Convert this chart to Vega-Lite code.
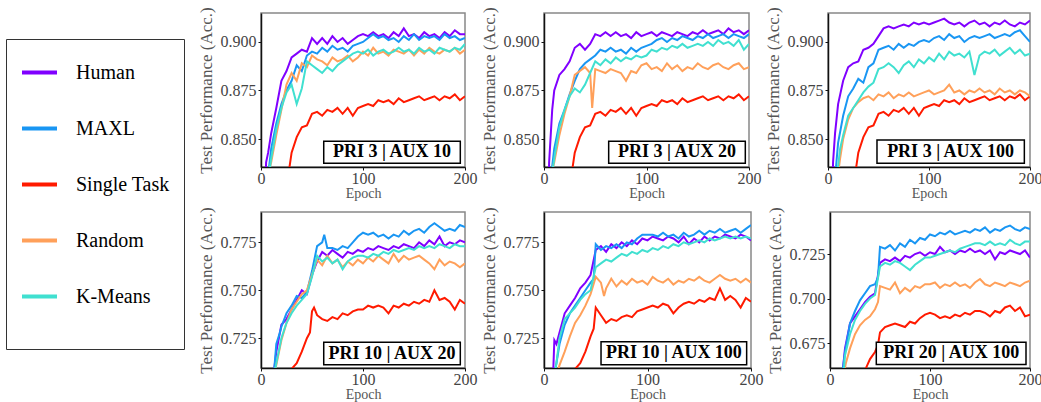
{
"$schema":"https://vega.github.io/schema/vega-lite/v6.json",
"padding":{"left":5,"top":6,"right":5,"bottom":2},
"background":"white",
"datasets":{"d":[
{"p":1,"s":"Human","e":0,"v":0.75},{"p":1,"s":"Human","e":5,"v":0.838},{"p":1,"s":"Human","e":7,"v":0.843},{"p":1,"s":"Human","e":10,"v":0.853},{"p":1,"s":"Human","e":15,"v":0.866},{"p":1,"s":"Human","e":20,"v":0.880},{"p":1,"s":"Human","e":25,"v":0.885},{"p":1,"s":"Human","e":30,"v":0.892},{"p":1,"s":"Human","e":35,"v":0.894},{"p":1,"s":"Human","e":40,"v":0.896},{"p":1,"s":"Human","e":45,"v":0.895},{"p":1,"s":"Human","e":50,"v":0.902},{"p":1,"s":"Human","e":55,"v":0.899},{"p":1,"s":"Human","e":60,"v":0.902},{"p":1,"s":"Human","e":65,"v":0.899},{"p":1,"s":"Human","e":70,"v":0.903},{"p":1,"s":"Human","e":75,"v":0.900},{"p":1,"s":"Human","e":80,"v":0.902},{"p":1,"s":"Human","e":85,"v":0.899},{"p":1,"s":"Human","e":90,"v":0.901},{"p":1,"s":"Human","e":95,"v":0.903},{"p":1,"s":"Human","e":100,"v":0.904},{"p":1,"s":"Human","e":105,"v":0.903},{"p":1,"s":"Human","e":110,"v":0.905},{"p":1,"s":"Human","e":115,"v":0.903},{"p":1,"s":"Human","e":120,"v":0.904},{"p":1,"s":"Human","e":125,"v":0.902},{"p":1,"s":"Human","e":130,"v":0.905},{"p":1,"s":"Human","e":135,"v":0.903},{"p":1,"s":"Human","e":140,"v":0.907},{"p":1,"s":"Human","e":145,"v":0.903},{"p":1,"s":"Human","e":150,"v":0.904},{"p":1,"s":"Human","e":155,"v":0.902},{"p":1,"s":"Human","e":160,"v":0.905},{"p":1,"s":"Human","e":165,"v":0.903},{"p":1,"s":"Human","e":170,"v":0.904},{"p":1,"s":"Human","e":175,"v":0.902},{"p":1,"s":"Human","e":180,"v":0.905},{"p":1,"s":"Human","e":185,"v":0.903},{"p":1,"s":"Human","e":190,"v":0.906},{"p":1,"s":"Human","e":195,"v":0.904},{"p":1,"s":"Human","e":200,"v":0.904},
{"p":1,"s":"MAXL","e":0,"v":0.76},{"p":1,"s":"MAXL","e":8,"v":0.836},{"p":1,"s":"MAXL","e":10,"v":0.845},{"p":1,"s":"MAXL","e":15,"v":0.858},{"p":1,"s":"MAXL","e":20,"v":0.868},{"p":1,"s":"MAXL","e":25,"v":0.875},{"p":1,"s":"MAXL","e":30,"v":0.880},{"p":1,"s":"MAXL","e":35,"v":0.888},{"p":1,"s":"MAXL","e":40,"v":0.885},{"p":1,"s":"MAXL","e":45,"v":0.893},{"p":1,"s":"MAXL","e":50,"v":0.895},{"p":1,"s":"MAXL","e":55,"v":0.894},{"p":1,"s":"MAXL","e":60,"v":0.897},{"p":1,"s":"MAXL","e":65,"v":0.895},{"p":1,"s":"MAXL","e":70,"v":0.898},{"p":1,"s":"MAXL","e":75,"v":0.896},{"p":1,"s":"MAXL","e":80,"v":0.897},{"p":1,"s":"MAXL","e":85,"v":0.895},{"p":1,"s":"MAXL","e":90,"v":0.898},{"p":1,"s":"MAXL","e":95,"v":0.899},{"p":1,"s":"MAXL","e":100,"v":0.900},{"p":1,"s":"MAXL","e":105,"v":0.902},{"p":1,"s":"MAXL","e":110,"v":0.904},{"p":1,"s":"MAXL","e":115,"v":0.902},{"p":1,"s":"MAXL","e":120,"v":0.903},{"p":1,"s":"MAXL","e":125,"v":0.901},{"p":1,"s":"MAXL","e":130,"v":0.902},{"p":1,"s":"MAXL","e":135,"v":0.900},{"p":1,"s":"MAXL","e":140,"v":0.903},{"p":1,"s":"MAXL","e":145,"v":0.901},{"p":1,"s":"MAXL","e":150,"v":0.904},{"p":1,"s":"MAXL","e":155,"v":0.901},{"p":1,"s":"MAXL","e":160,"v":0.903},{"p":1,"s":"MAXL","e":165,"v":0.902},{"p":1,"s":"MAXL","e":170,"v":0.903},{"p":1,"s":"MAXL","e":175,"v":0.901},{"p":1,"s":"MAXL","e":180,"v":0.904},{"p":1,"s":"MAXL","e":185,"v":0.902},{"p":1,"s":"MAXL","e":190,"v":0.903},{"p":1,"s":"MAXL","e":195,"v":0.901},{"p":1,"s":"MAXL","e":200,"v":0.902},
{"p":1,"s":"Single Task","e":0,"v":0.70},{"p":1,"s":"Single Task","e":25,"v":0.825},{"p":1,"s":"Single Task","e":30,"v":0.843},{"p":1,"s":"Single Task","e":35,"v":0.851},{"p":1,"s":"Single Task","e":40,"v":0.856},{"p":1,"s":"Single Task","e":45,"v":0.857},{"p":1,"s":"Single Task","e":50,"v":0.863},{"p":1,"s":"Single Task","e":55,"v":0.864},{"p":1,"s":"Single Task","e":60,"v":0.862},{"p":1,"s":"Single Task","e":65,"v":0.865},{"p":1,"s":"Single Task","e":70,"v":0.864},{"p":1,"s":"Single Task","e":75,"v":0.866},{"p":1,"s":"Single Task","e":80,"v":0.863},{"p":1,"s":"Single Task","e":85,"v":0.866},{"p":1,"s":"Single Task","e":90,"v":0.862},{"p":1,"s":"Single Task","e":95,"v":0.866},{"p":1,"s":"Single Task","e":100,"v":0.867},{"p":1,"s":"Single Task","e":105,"v":0.868},{"p":1,"s":"Single Task","e":110,"v":0.867},{"p":1,"s":"Single Task","e":115,"v":0.870},{"p":1,"s":"Single Task","e":120,"v":0.869},{"p":1,"s":"Single Task","e":125,"v":0.870},{"p":1,"s":"Single Task","e":130,"v":0.868},{"p":1,"s":"Single Task","e":135,"v":0.871},{"p":1,"s":"Single Task","e":140,"v":0.869},{"p":1,"s":"Single Task","e":145,"v":0.870},{"p":1,"s":"Single Task","e":150,"v":0.871},{"p":1,"s":"Single Task","e":155,"v":0.872},{"p":1,"s":"Single Task","e":160,"v":0.870},{"p":1,"s":"Single Task","e":165,"v":0.871},{"p":1,"s":"Single Task","e":170,"v":0.872},{"p":1,"s":"Single Task","e":175,"v":0.870},{"p":1,"s":"Single Task","e":180,"v":0.872},{"p":1,"s":"Single Task","e":185,"v":0.871},{"p":1,"s":"Single Task","e":190,"v":0.873},{"p":1,"s":"Single Task","e":195,"v":0.870},{"p":1,"s":"Single Task","e":200,"v":0.872},
{"p":1,"s":"Random","e":0,"v":0.76},{"p":1,"s":"Random","e":9,"v":0.836},{"p":1,"s":"Random","e":10,"v":0.838},{"p":1,"s":"Random","e":15,"v":0.852},{"p":1,"s":"Random","e":20,"v":0.865},{"p":1,"s":"Random","e":25,"v":0.878},{"p":1,"s":"Random","e":30,"v":0.884},{"p":1,"s":"Random","e":35,"v":0.880},{"p":1,"s":"Random","e":40,"v":0.889},{"p":1,"s":"Random","e":45,"v":0.887},{"p":1,"s":"Random","e":50,"v":0.893},{"p":1,"s":"Random","e":55,"v":0.891},{"p":1,"s":"Random","e":60,"v":0.890},{"p":1,"s":"Random","e":65,"v":0.888},{"p":1,"s":"Random","e":70,"v":0.892},{"p":1,"s":"Random","e":75,"v":0.890},{"p":1,"s":"Random","e":80,"v":0.891},{"p":1,"s":"Random","e":85,"v":0.893},{"p":1,"s":"Random","e":90,"v":0.890},{"p":1,"s":"Random","e":95,"v":0.892},{"p":1,"s":"Random","e":100,"v":0.895},{"p":1,"s":"Random","e":105,"v":0.893},{"p":1,"s":"Random","e":110,"v":0.897},{"p":1,"s":"Random","e":115,"v":0.894},{"p":1,"s":"Random","e":120,"v":0.895},{"p":1,"s":"Random","e":125,"v":0.893},{"p":1,"s":"Random","e":130,"v":0.896},{"p":1,"s":"Random","e":135,"v":0.895},{"p":1,"s":"Random","e":140,"v":0.894},{"p":1,"s":"Random","e":145,"v":0.896},{"p":1,"s":"Random","e":150,"v":0.893},{"p":1,"s":"Random","e":155,"v":0.896},{"p":1,"s":"Random","e":160,"v":0.894},{"p":1,"s":"Random","e":165,"v":0.897},{"p":1,"s":"Random","e":170,"v":0.895},{"p":1,"s":"Random","e":175,"v":0.894},{"p":1,"s":"Random","e":180,"v":0.896},{"p":1,"s":"Random","e":185,"v":0.895},{"p":1,"s":"Random","e":190,"v":0.897},{"p":1,"s":"Random","e":195,"v":0.894},{"p":1,"s":"Random","e":200,"v":0.896},
{"p":1,"s":"K-Means","e":0,"v":0.76},{"p":1,"s":"K-Means","e":9,"v":0.836},{"p":1,"s":"K-Means","e":10,"v":0.840},{"p":1,"s":"K-Means","e":15,"v":0.855},{"p":1,"s":"K-Means","e":20,"v":0.866},{"p":1,"s":"K-Means","e":25,"v":0.874},{"p":1,"s":"K-Means","e":30,"v":0.878},{"p":1,"s":"K-Means","e":35,"v":0.868},{"p":1,"s":"K-Means","e":40,"v":0.876},{"p":1,"s":"K-Means","e":45,"v":0.890},{"p":1,"s":"K-Means","e":50,"v":0.888},{"p":1,"s":"K-Means","e":55,"v":0.886},{"p":1,"s":"K-Means","e":60,"v":0.884},{"p":1,"s":"K-Means","e":65,"v":0.887},{"p":1,"s":"K-Means","e":70,"v":0.885},{"p":1,"s":"K-Means","e":75,"v":0.888},{"p":1,"s":"K-Means","e":80,"v":0.890},{"p":1,"s":"K-Means","e":85,"v":0.892},{"p":1,"s":"K-Means","e":90,"v":0.894},{"p":1,"s":"K-Means","e":95,"v":0.895},{"p":1,"s":"K-Means","e":100,"v":0.894},{"p":1,"s":"K-Means","e":105,"v":0.896},{"p":1,"s":"K-Means","e":110,"v":0.893},{"p":1,"s":"K-Means","e":115,"v":0.895},{"p":1,"s":"K-Means","e":120,"v":0.896},{"p":1,"s":"K-Means","e":125,"v":0.894},{"p":1,"s":"K-Means","e":130,"v":0.895},{"p":1,"s":"K-Means","e":135,"v":0.897},{"p":1,"s":"K-Means","e":140,"v":0.895},{"p":1,"s":"K-Means","e":145,"v":0.896},{"p":1,"s":"K-Means","e":150,"v":0.894},{"p":1,"s":"K-Means","e":155,"v":0.897},{"p":1,"s":"K-Means","e":160,"v":0.895},{"p":1,"s":"K-Means","e":165,"v":0.896},{"p":1,"s":"K-Means","e":170,"v":0.894},{"p":1,"s":"K-Means","e":175,"v":0.897},{"p":1,"s":"K-Means","e":180,"v":0.896},{"p":1,"s":"K-Means","e":185,"v":0.895},{"p":1,"s":"K-Means","e":190,"v":0.897},{"p":1,"s":"K-Means","e":195,"v":0.896},{"p":1,"s":"K-Means","e":200,"v":0.899},
{"p":2,"s":"Human","e":0,"v":0.70},{"p":2,"s":"Human","e":5,"v":0.838},{"p":2,"s":"Human","e":8,"v":0.865},{"p":2,"s":"Human","e":10,"v":0.875},{"p":2,"s":"Human","e":15,"v":0.883},{"p":2,"s":"Human","e":20,"v":0.886},{"p":2,"s":"Human","e":25,"v":0.890},{"p":2,"s":"Human","e":30,"v":0.897},{"p":2,"s":"Human","e":35,"v":0.899},{"p":2,"s":"Human","e":40,"v":0.896},{"p":2,"s":"Human","e":45,"v":0.899},{"p":2,"s":"Human","e":50,"v":0.904},{"p":2,"s":"Human","e":55,"v":0.903},{"p":2,"s":"Human","e":60,"v":0.905},{"p":2,"s":"Human","e":65,"v":0.903},{"p":2,"s":"Human","e":70,"v":0.905},{"p":2,"s":"Human","e":75,"v":0.903},{"p":2,"s":"Human","e":80,"v":0.904},{"p":2,"s":"Human","e":85,"v":0.902},{"p":2,"s":"Human","e":90,"v":0.905},{"p":2,"s":"Human","e":95,"v":0.903},{"p":2,"s":"Human","e":100,"v":0.904},{"p":2,"s":"Human","e":105,"v":0.905},{"p":2,"s":"Human","e":110,"v":0.903},{"p":2,"s":"Human","e":115,"v":0.905},{"p":2,"s":"Human","e":120,"v":0.904},{"p":2,"s":"Human","e":125,"v":0.903},{"p":2,"s":"Human","e":130,"v":0.905},{"p":2,"s":"Human","e":135,"v":0.904},{"p":2,"s":"Human","e":140,"v":0.903},{"p":2,"s":"Human","e":145,"v":0.905},{"p":2,"s":"Human","e":150,"v":0.904},{"p":2,"s":"Human","e":155,"v":0.906},{"p":2,"s":"Human","e":160,"v":0.904},{"p":2,"s":"Human","e":165,"v":0.905},{"p":2,"s":"Human","e":170,"v":0.906},{"p":2,"s":"Human","e":175,"v":0.904},{"p":2,"s":"Human","e":180,"v":0.907},{"p":2,"s":"Human","e":185,"v":0.905},{"p":2,"s":"Human","e":190,"v":0.906},{"p":2,"s":"Human","e":195,"v":0.904},{"p":2,"s":"Human","e":200,"v":0.906},
{"p":2,"s":"MAXL","e":0,"v":0.76},{"p":2,"s":"MAXL","e":8,"v":0.836},{"p":2,"s":"MAXL","e":10,"v":0.845},{"p":2,"s":"MAXL","e":15,"v":0.858},{"p":2,"s":"MAXL","e":20,"v":0.865},{"p":2,"s":"MAXL","e":25,"v":0.873},{"p":2,"s":"MAXL","e":30,"v":0.880},{"p":2,"s":"MAXL","e":35,"v":0.886},{"p":2,"s":"MAXL","e":40,"v":0.889},{"p":2,"s":"MAXL","e":45,"v":0.891},{"p":2,"s":"MAXL","e":50,"v":0.893},{"p":2,"s":"MAXL","e":55,"v":0.896},{"p":2,"s":"MAXL","e":60,"v":0.895},{"p":2,"s":"MAXL","e":65,"v":0.897},{"p":2,"s":"MAXL","e":70,"v":0.895},{"p":2,"s":"MAXL","e":75,"v":0.896},{"p":2,"s":"MAXL","e":80,"v":0.894},{"p":2,"s":"MAXL","e":85,"v":0.897},{"p":2,"s":"MAXL","e":90,"v":0.895},{"p":2,"s":"MAXL","e":95,"v":0.897},{"p":2,"s":"MAXL","e":100,"v":0.898},{"p":2,"s":"MAXL","e":105,"v":0.899},{"p":2,"s":"MAXL","e":110,"v":0.901},{"p":2,"s":"MAXL","e":115,"v":0.902},{"p":2,"s":"MAXL","e":120,"v":0.900},{"p":2,"s":"MAXL","e":125,"v":0.902},{"p":2,"s":"MAXL","e":130,"v":0.901},{"p":2,"s":"MAXL","e":135,"v":0.903},{"p":2,"s":"MAXL","e":140,"v":0.902},{"p":2,"s":"MAXL","e":145,"v":0.901},{"p":2,"s":"MAXL","e":150,"v":0.903},{"p":2,"s":"MAXL","e":155,"v":0.902},{"p":2,"s":"MAXL","e":160,"v":0.904},{"p":2,"s":"MAXL","e":165,"v":0.902},{"p":2,"s":"MAXL","e":170,"v":0.903},{"p":2,"s":"MAXL","e":175,"v":0.904},{"p":2,"s":"MAXL","e":180,"v":0.902},{"p":2,"s":"MAXL","e":185,"v":0.904},{"p":2,"s":"MAXL","e":190,"v":0.903},{"p":2,"s":"MAXL","e":195,"v":0.902},{"p":2,"s":"MAXL","e":200,"v":0.904},
{"p":2,"s":"Single Task","e":0,"v":0.70},{"p":2,"s":"Single Task","e":25,"v":0.825},{"p":2,"s":"Single Task","e":30,"v":0.843},{"p":2,"s":"Single Task","e":35,"v":0.851},{"p":2,"s":"Single Task","e":40,"v":0.856},{"p":2,"s":"Single Task","e":45,"v":0.857},{"p":2,"s":"Single Task","e":50,"v":0.863},{"p":2,"s":"Single Task","e":55,"v":0.864},{"p":2,"s":"Single Task","e":60,"v":0.862},{"p":2,"s":"Single Task","e":65,"v":0.865},{"p":2,"s":"Single Task","e":70,"v":0.864},{"p":2,"s":"Single Task","e":75,"v":0.866},{"p":2,"s":"Single Task","e":80,"v":0.863},{"p":2,"s":"Single Task","e":85,"v":0.866},{"p":2,"s":"Single Task","e":90,"v":0.862},{"p":2,"s":"Single Task","e":95,"v":0.866},{"p":2,"s":"Single Task","e":100,"v":0.867},{"p":2,"s":"Single Task","e":105,"v":0.868},{"p":2,"s":"Single Task","e":110,"v":0.867},{"p":2,"s":"Single Task","e":115,"v":0.870},{"p":2,"s":"Single Task","e":120,"v":0.869},{"p":2,"s":"Single Task","e":125,"v":0.870},{"p":2,"s":"Single Task","e":130,"v":0.868},{"p":2,"s":"Single Task","e":135,"v":0.871},{"p":2,"s":"Single Task","e":140,"v":0.869},{"p":2,"s":"Single Task","e":145,"v":0.870},{"p":2,"s":"Single Task","e":150,"v":0.871},{"p":2,"s":"Single Task","e":155,"v":0.872},{"p":2,"s":"Single Task","e":160,"v":0.870},{"p":2,"s":"Single Task","e":165,"v":0.871},{"p":2,"s":"Single Task","e":170,"v":0.872},{"p":2,"s":"Single Task","e":175,"v":0.870},{"p":2,"s":"Single Task","e":180,"v":0.872},{"p":2,"s":"Single Task","e":185,"v":0.871},{"p":2,"s":"Single Task","e":190,"v":0.873},{"p":2,"s":"Single Task","e":195,"v":0.870},{"p":2,"s":"Single Task","e":200,"v":0.872},
{"p":2,"s":"Random","e":0,"v":0.76},{"p":2,"s":"Random","e":9,"v":0.836},{"p":2,"s":"Random","e":10,"v":0.838},{"p":2,"s":"Random","e":15,"v":0.852},{"p":2,"s":"Random","e":20,"v":0.863},{"p":2,"s":"Random","e":25,"v":0.872},{"p":2,"s":"Random","e":30,"v":0.883},{"p":2,"s":"Random","e":35,"v":0.885},{"p":2,"s":"Random","e":40,"v":0.887},{"p":2,"s":"Random","e":45,"v":0.884},{"p":2,"s":"Random","e":47,"v":0.866},{"p":2,"s":"Random","e":50,"v":0.886},{"p":2,"s":"Random","e":55,"v":0.885},{"p":2,"s":"Random","e":60,"v":0.884},{"p":2,"s":"Random","e":65,"v":0.886},{"p":2,"s":"Random","e":70,"v":0.885},{"p":2,"s":"Random","e":75,"v":0.884},{"p":2,"s":"Random","e":80,"v":0.880},{"p":2,"s":"Random","e":85,"v":0.885},{"p":2,"s":"Random","e":90,"v":0.884},{"p":2,"s":"Random","e":95,"v":0.888},{"p":2,"s":"Random","e":100,"v":0.889},{"p":2,"s":"Random","e":105,"v":0.886},{"p":2,"s":"Random","e":110,"v":0.887},{"p":2,"s":"Random","e":115,"v":0.885},{"p":2,"s":"Random","e":120,"v":0.889},{"p":2,"s":"Random","e":125,"v":0.886},{"p":2,"s":"Random","e":130,"v":0.888},{"p":2,"s":"Random","e":135,"v":0.885},{"p":2,"s":"Random","e":140,"v":0.887},{"p":2,"s":"Random","e":145,"v":0.886},{"p":2,"s":"Random","e":150,"v":0.889},{"p":2,"s":"Random","e":155,"v":0.887},{"p":2,"s":"Random","e":160,"v":0.886},{"p":2,"s":"Random","e":165,"v":0.888},{"p":2,"s":"Random","e":170,"v":0.889},{"p":2,"s":"Random","e":175,"v":0.887},{"p":2,"s":"Random","e":180,"v":0.886},{"p":2,"s":"Random","e":185,"v":0.888},{"p":2,"s":"Random","e":190,"v":0.889},{"p":2,"s":"Random","e":195,"v":0.886},{"p":2,"s":"Random","e":200,"v":0.887},
{"p":2,"s":"K-Means","e":0,"v":0.76},{"p":2,"s":"K-Means","e":9,"v":0.836},{"p":2,"s":"K-Means","e":10,"v":0.840},{"p":2,"s":"K-Means","e":15,"v":0.856},{"p":2,"s":"K-Means","e":20,"v":0.865},{"p":2,"s":"K-Means","e":25,"v":0.872},{"p":2,"s":"K-Means","e":30,"v":0.876},{"p":2,"s":"K-Means","e":35,"v":0.874},{"p":2,"s":"K-Means","e":40,"v":0.878},{"p":2,"s":"K-Means","e":45,"v":0.884},{"p":2,"s":"K-Means","e":50,"v":0.890},{"p":2,"s":"K-Means","e":55,"v":0.888},{"p":2,"s":"K-Means","e":60,"v":0.891},{"p":2,"s":"K-Means","e":65,"v":0.889},{"p":2,"s":"K-Means","e":70,"v":0.892},{"p":2,"s":"K-Means","e":75,"v":0.890},{"p":2,"s":"K-Means","e":80,"v":0.892},{"p":2,"s":"K-Means","e":85,"v":0.891},{"p":2,"s":"K-Means","e":90,"v":0.893},{"p":2,"s":"K-Means","e":95,"v":0.892},{"p":2,"s":"K-Means","e":100,"v":0.893},{"p":2,"s":"K-Means","e":105,"v":0.896},{"p":2,"s":"K-Means","e":110,"v":0.895},{"p":2,"s":"K-Means","e":115,"v":0.897},{"p":2,"s":"K-Means","e":120,"v":0.896},{"p":2,"s":"K-Means","e":125,"v":0.898},{"p":2,"s":"K-Means","e":130,"v":0.897},{"p":2,"s":"K-Means","e":135,"v":0.899},{"p":2,"s":"K-Means","e":140,"v":0.897},{"p":2,"s":"K-Means","e":145,"v":0.898},{"p":2,"s":"K-Means","e":150,"v":0.899},{"p":2,"s":"K-Means","e":155,"v":0.898},{"p":2,"s":"K-Means","e":160,"v":0.900},{"p":2,"s":"K-Means","e":165,"v":0.898},{"p":2,"s":"K-Means","e":170,"v":0.901},{"p":2,"s":"K-Means","e":175,"v":0.899},{"p":2,"s":"K-Means","e":180,"v":0.900},{"p":2,"s":"K-Means","e":185,"v":0.898},{"p":2,"s":"K-Means","e":190,"v":0.901},{"p":2,"s":"K-Means","e":195,"v":0.896},{"p":2,"s":"K-Means","e":200,"v":0.899},
{"p":3,"s":"Human","e":0,"v":0.70},{"p":3,"s":"Human","e":5,"v":0.838},{"p":3,"s":"Human","e":7,"v":0.853},{"p":3,"s":"Human","e":10,"v":0.868},{"p":3,"s":"Human","e":15,"v":0.880},{"p":3,"s":"Human","e":20,"v":0.887},{"p":3,"s":"Human","e":25,"v":0.889},{"p":3,"s":"Human","e":30,"v":0.890},{"p":3,"s":"Human","e":35,"v":0.896},{"p":3,"s":"Human","e":40,"v":0.897},{"p":3,"s":"Human","e":45,"v":0.899},{"p":3,"s":"Human","e":50,"v":0.903},{"p":3,"s":"Human","e":55,"v":0.907},{"p":3,"s":"Human","e":60,"v":0.908},{"p":3,"s":"Human","e":65,"v":0.907},{"p":3,"s":"Human","e":70,"v":0.908},{"p":3,"s":"Human","e":75,"v":0.909},{"p":3,"s":"Human","e":80,"v":0.908},{"p":3,"s":"Human","e":85,"v":0.910},{"p":3,"s":"Human","e":90,"v":0.909},{"p":3,"s":"Human","e":95,"v":0.910},{"p":3,"s":"Human","e":100,"v":0.909},{"p":3,"s":"Human","e":105,"v":0.910},{"p":3,"s":"Human","e":110,"v":0.911},{"p":3,"s":"Human","e":115,"v":0.912},{"p":3,"s":"Human","e":120,"v":0.910},{"p":3,"s":"Human","e":125,"v":0.909},{"p":3,"s":"Human","e":130,"v":0.910},{"p":3,"s":"Human","e":135,"v":0.908},{"p":3,"s":"Human","e":140,"v":0.910},{"p":3,"s":"Human","e":145,"v":0.911},{"p":3,"s":"Human","e":150,"v":0.909},{"p":3,"s":"Human","e":155,"v":0.910},{"p":3,"s":"Human","e":160,"v":0.908},{"p":3,"s":"Human","e":165,"v":0.910},{"p":3,"s":"Human","e":170,"v":0.909},{"p":3,"s":"Human","e":175,"v":0.911},{"p":3,"s":"Human","e":180,"v":0.909},{"p":3,"s":"Human","e":185,"v":0.908},{"p":3,"s":"Human","e":190,"v":0.910},{"p":3,"s":"Human","e":195,"v":0.909},{"p":3,"s":"Human","e":200,"v":0.911},
{"p":3,"s":"MAXL","e":0,"v":0.76},{"p":3,"s":"MAXL","e":8,"v":0.836},{"p":3,"s":"MAXL","e":10,"v":0.848},{"p":3,"s":"MAXL","e":15,"v":0.862},{"p":3,"s":"MAXL","e":20,"v":0.872},{"p":3,"s":"MAXL","e":25,"v":0.876},{"p":3,"s":"MAXL","e":30,"v":0.881},{"p":3,"s":"MAXL","e":35,"v":0.879},{"p":3,"s":"MAXL","e":40,"v":0.887},{"p":3,"s":"MAXL","e":45,"v":0.889},{"p":3,"s":"MAXL","e":50,"v":0.896},{"p":3,"s":"MAXL","e":55,"v":0.897},{"p":3,"s":"MAXL","e":60,"v":0.898},{"p":3,"s":"MAXL","e":65,"v":0.896},{"p":3,"s":"MAXL","e":70,"v":0.899},{"p":3,"s":"MAXL","e":75,"v":0.897},{"p":3,"s":"MAXL","e":80,"v":0.899},{"p":3,"s":"MAXL","e":85,"v":0.898},{"p":3,"s":"MAXL","e":90,"v":0.900},{"p":3,"s":"MAXL","e":95,"v":0.901},{"p":3,"s":"MAXL","e":100,"v":0.900},{"p":3,"s":"MAXL","e":105,"v":0.902},{"p":3,"s":"MAXL","e":110,"v":0.903},{"p":3,"s":"MAXL","e":115,"v":0.901},{"p":3,"s":"MAXL","e":120,"v":0.904},{"p":3,"s":"MAXL","e":125,"v":0.902},{"p":3,"s":"MAXL","e":130,"v":0.903},{"p":3,"s":"MAXL","e":135,"v":0.900},{"p":3,"s":"MAXL","e":140,"v":0.902},{"p":3,"s":"MAXL","e":145,"v":0.903},{"p":3,"s":"MAXL","e":150,"v":0.902},{"p":3,"s":"MAXL","e":155,"v":0.903},{"p":3,"s":"MAXL","e":160,"v":0.904},{"p":3,"s":"MAXL","e":165,"v":0.902},{"p":3,"s":"MAXL","e":170,"v":0.903},{"p":3,"s":"MAXL","e":175,"v":0.904},{"p":3,"s":"MAXL","e":180,"v":0.903},{"p":3,"s":"MAXL","e":185,"v":0.905},{"p":3,"s":"MAXL","e":190,"v":0.906},{"p":3,"s":"MAXL","e":195,"v":0.903},{"p":3,"s":"MAXL","e":200,"v":0.900},
{"p":3,"s":"Single Task","e":0,"v":0.70},{"p":3,"s":"Single Task","e":25,"v":0.825},{"p":3,"s":"Single Task","e":30,"v":0.843},{"p":3,"s":"Single Task","e":35,"v":0.851},{"p":3,"s":"Single Task","e":40,"v":0.856},{"p":3,"s":"Single Task","e":45,"v":0.857},{"p":3,"s":"Single Task","e":50,"v":0.863},{"p":3,"s":"Single Task","e":55,"v":0.864},{"p":3,"s":"Single Task","e":60,"v":0.862},{"p":3,"s":"Single Task","e":65,"v":0.865},{"p":3,"s":"Single Task","e":70,"v":0.864},{"p":3,"s":"Single Task","e":75,"v":0.866},{"p":3,"s":"Single Task","e":80,"v":0.863},{"p":3,"s":"Single Task","e":85,"v":0.866},{"p":3,"s":"Single Task","e":90,"v":0.862},{"p":3,"s":"Single Task","e":95,"v":0.866},{"p":3,"s":"Single Task","e":100,"v":0.867},{"p":3,"s":"Single Task","e":105,"v":0.868},{"p":3,"s":"Single Task","e":110,"v":0.867},{"p":3,"s":"Single Task","e":115,"v":0.870},{"p":3,"s":"Single Task","e":120,"v":0.869},{"p":3,"s":"Single Task","e":125,"v":0.870},{"p":3,"s":"Single Task","e":130,"v":0.868},{"p":3,"s":"Single Task","e":135,"v":0.871},{"p":3,"s":"Single Task","e":140,"v":0.869},{"p":3,"s":"Single Task","e":145,"v":0.870},{"p":3,"s":"Single Task","e":150,"v":0.871},{"p":3,"s":"Single Task","e":155,"v":0.872},{"p":3,"s":"Single Task","e":160,"v":0.870},{"p":3,"s":"Single Task","e":165,"v":0.871},{"p":3,"s":"Single Task","e":170,"v":0.872},{"p":3,"s":"Single Task","e":175,"v":0.870},{"p":3,"s":"Single Task","e":180,"v":0.872},{"p":3,"s":"Single Task","e":185,"v":0.871},{"p":3,"s":"Single Task","e":190,"v":0.873},{"p":3,"s":"Single Task","e":195,"v":0.870},{"p":3,"s":"Single Task","e":200,"v":0.872},
{"p":3,"s":"Random","e":0,"v":0.76},{"p":3,"s":"Random","e":11,"v":0.836},{"p":3,"s":"Random","e":12,"v":0.840},{"p":3,"s":"Random","e":15,"v":0.850},{"p":3,"s":"Random","e":20,"v":0.860},{"p":3,"s":"Random","e":25,"v":0.866},{"p":3,"s":"Random","e":30,"v":0.869},{"p":3,"s":"Random","e":35,"v":0.871},{"p":3,"s":"Random","e":40,"v":0.872},{"p":3,"s":"Random","e":45,"v":0.870},{"p":3,"s":"Random","e":50,"v":0.873},{"p":3,"s":"Random","e":55,"v":0.872},{"p":3,"s":"Random","e":60,"v":0.874},{"p":3,"s":"Random","e":65,"v":0.871},{"p":3,"s":"Random","e":70,"v":0.873},{"p":3,"s":"Random","e":75,"v":0.872},{"p":3,"s":"Random","e":80,"v":0.874},{"p":3,"s":"Random","e":85,"v":0.872},{"p":3,"s":"Random","e":90,"v":0.873},{"p":3,"s":"Random","e":95,"v":0.874},{"p":3,"s":"Random","e":100,"v":0.875},{"p":3,"s":"Random","e":105,"v":0.873},{"p":3,"s":"Random","e":110,"v":0.874},{"p":3,"s":"Random","e":115,"v":0.875},{"p":3,"s":"Random","e":120,"v":0.878},{"p":3,"s":"Random","e":125,"v":0.874},{"p":3,"s":"Random","e":130,"v":0.875},{"p":3,"s":"Random","e":135,"v":0.873},{"p":3,"s":"Random","e":140,"v":0.875},{"p":3,"s":"Random","e":145,"v":0.874},{"p":3,"s":"Random","e":150,"v":0.876},{"p":3,"s":"Random","e":155,"v":0.874},{"p":3,"s":"Random","e":160,"v":0.875},{"p":3,"s":"Random","e":165,"v":0.873},{"p":3,"s":"Random","e":170,"v":0.876},{"p":3,"s":"Random","e":175,"v":0.874},{"p":3,"s":"Random","e":180,"v":0.875},{"p":3,"s":"Random","e":185,"v":0.873},{"p":3,"s":"Random","e":190,"v":0.875},{"p":3,"s":"Random","e":195,"v":0.874},{"p":3,"s":"Random","e":200,"v":0.872},
{"p":3,"s":"K-Means","e":0,"v":0.76},{"p":3,"s":"K-Means","e":10,"v":0.836},{"p":3,"s":"K-Means","e":12,"v":0.845},{"p":3,"s":"K-Means","e":15,"v":0.852},{"p":3,"s":"K-Means","e":20,"v":0.862},{"p":3,"s":"K-Means","e":25,"v":0.866},{"p":3,"s":"K-Means","e":30,"v":0.870},{"p":3,"s":"K-Means","e":35,"v":0.874},{"p":3,"s":"K-Means","e":40,"v":0.877},{"p":3,"s":"K-Means","e":45,"v":0.879},{"p":3,"s":"K-Means","e":50,"v":0.886},{"p":3,"s":"K-Means","e":55,"v":0.887},{"p":3,"s":"K-Means","e":60,"v":0.889},{"p":3,"s":"K-Means","e":65,"v":0.887},{"p":3,"s":"K-Means","e":70,"v":0.884},{"p":3,"s":"K-Means","e":75,"v":0.888},{"p":3,"s":"K-Means","e":80,"v":0.890},{"p":3,"s":"K-Means","e":85,"v":0.887},{"p":3,"s":"K-Means","e":90,"v":0.891},{"p":3,"s":"K-Means","e":95,"v":0.889},{"p":3,"s":"K-Means","e":100,"v":0.892},{"p":3,"s":"K-Means","e":105,"v":0.890},{"p":3,"s":"K-Means","e":110,"v":0.894},{"p":3,"s":"K-Means","e":115,"v":0.891},{"p":3,"s":"K-Means","e":120,"v":0.895},{"p":3,"s":"K-Means","e":125,"v":0.893},{"p":3,"s":"K-Means","e":130,"v":0.894},{"p":3,"s":"K-Means","e":135,"v":0.892},{"p":3,"s":"K-Means","e":140,"v":0.895},{"p":3,"s":"K-Means","e":145,"v":0.883},{"p":3,"s":"K-Means","e":150,"v":0.893},{"p":3,"s":"K-Means","e":155,"v":0.895},{"p":3,"s":"K-Means","e":160,"v":0.894},{"p":3,"s":"K-Means","e":165,"v":0.896},{"p":3,"s":"K-Means","e":170,"v":0.893},{"p":3,"s":"K-Means","e":175,"v":0.895},{"p":3,"s":"K-Means","e":180,"v":0.897},{"p":3,"s":"K-Means","e":185,"v":0.894},{"p":3,"s":"K-Means","e":190,"v":0.896},{"p":3,"s":"K-Means","e":195,"v":0.893},{"p":3,"s":"K-Means","e":200,"v":0.894},
{"p":4,"s":"Human","e":0,"v":0.62},{"p":4,"s":"Human","e":13,"v":0.709},{"p":4,"s":"Human","e":15,"v":0.718},{"p":4,"s":"Human","e":20,"v":0.732},{"p":4,"s":"Human","e":25,"v":0.735},{"p":4,"s":"Human","e":30,"v":0.740},{"p":4,"s":"Human","e":35,"v":0.745},{"p":4,"s":"Human","e":40,"v":0.750},{"p":4,"s":"Human","e":45,"v":0.748},{"p":4,"s":"Human","e":50,"v":0.758},{"p":4,"s":"Human","e":55,"v":0.765},{"p":4,"s":"Human","e":60,"v":0.770},{"p":4,"s":"Human","e":65,"v":0.768},{"p":4,"s":"Human","e":70,"v":0.771},{"p":4,"s":"Human","e":75,"v":0.769},{"p":4,"s":"Human","e":80,"v":0.767},{"p":4,"s":"Human","e":85,"v":0.770},{"p":4,"s":"Human","e":90,"v":0.769},{"p":4,"s":"Human","e":95,"v":0.771},{"p":4,"s":"Human","e":100,"v":0.770},{"p":4,"s":"Human","e":105,"v":0.772},{"p":4,"s":"Human","e":110,"v":0.771},{"p":4,"s":"Human","e":115,"v":0.773},{"p":4,"s":"Human","e":120,"v":0.772},{"p":4,"s":"Human","e":125,"v":0.771},{"p":4,"s":"Human","e":130,"v":0.773},{"p":4,"s":"Human","e":135,"v":0.772},{"p":4,"s":"Human","e":140,"v":0.774},{"p":4,"s":"Human","e":145,"v":0.773},{"p":4,"s":"Human","e":150,"v":0.772},{"p":4,"s":"Human","e":155,"v":0.775},{"p":4,"s":"Human","e":160,"v":0.773},{"p":4,"s":"Human","e":165,"v":0.776},{"p":4,"s":"Human","e":170,"v":0.774},{"p":4,"s":"Human","e":175,"v":0.778},{"p":4,"s":"Human","e":180,"v":0.773},{"p":4,"s":"Human","e":185,"v":0.775},{"p":4,"s":"Human","e":190,"v":0.774},{"p":4,"s":"Human","e":195,"v":0.776},{"p":4,"s":"Human","e":200,"v":0.775},
{"p":4,"s":"MAXL","e":0,"v":0.62},{"p":4,"s":"MAXL","e":13,"v":0.709},{"p":4,"s":"MAXL","e":15,"v":0.722},{"p":4,"s":"MAXL","e":18,"v":0.727},{"p":4,"s":"MAXL","e":20,"v":0.731},{"p":4,"s":"MAXL","e":25,"v":0.738},{"p":4,"s":"MAXL","e":30,"v":0.742},{"p":4,"s":"MAXL","e":35,"v":0.747},{"p":4,"s":"MAXL","e":40,"v":0.746},{"p":4,"s":"MAXL","e":45,"v":0.749},{"p":4,"s":"MAXL","e":50,"v":0.760},{"p":4,"s":"MAXL","e":55,"v":0.773},{"p":4,"s":"MAXL","e":60,"v":0.775},{"p":4,"s":"MAXL","e":62,"v":0.779},{"p":4,"s":"MAXL","e":65,"v":0.772},{"p":4,"s":"MAXL","e":70,"v":0.772},{"p":4,"s":"MAXL","e":75,"v":0.771},{"p":4,"s":"MAXL","e":80,"v":0.773},{"p":4,"s":"MAXL","e":85,"v":0.772},{"p":4,"s":"MAXL","e":90,"v":0.775},{"p":4,"s":"MAXL","e":95,"v":0.778},{"p":4,"s":"MAXL","e":100,"v":0.780},{"p":4,"s":"MAXL","e":105,"v":0.779},{"p":4,"s":"MAXL","e":110,"v":0.780},{"p":4,"s":"MAXL","e":115,"v":0.778},{"p":4,"s":"MAXL","e":120,"v":0.779},{"p":4,"s":"MAXL","e":125,"v":0.777},{"p":4,"s":"MAXL","e":130,"v":0.779},{"p":4,"s":"MAXL","e":135,"v":0.778},{"p":4,"s":"MAXL","e":140,"v":0.781},{"p":4,"s":"MAXL","e":145,"v":0.779},{"p":4,"s":"MAXL","e":150,"v":0.781},{"p":4,"s":"MAXL","e":155,"v":0.782},{"p":4,"s":"MAXL","e":160,"v":0.780},{"p":4,"s":"MAXL","e":165,"v":0.783},{"p":4,"s":"MAXL","e":170,"v":0.785},{"p":4,"s":"MAXL","e":175,"v":0.783},{"p":4,"s":"MAXL","e":180,"v":0.781},{"p":4,"s":"MAXL","e":185,"v":0.782},{"p":4,"s":"MAXL","e":190,"v":0.781},{"p":4,"s":"MAXL","e":195,"v":0.784},{"p":4,"s":"MAXL","e":200,"v":0.783},
{"p":4,"s":"Single Task","e":0,"v":0.60},{"p":4,"s":"Single Task","e":30,"v":0.709},{"p":4,"s":"Single Task","e":35,"v":0.712},{"p":4,"s":"Single Task","e":40,"v":0.718},{"p":4,"s":"Single Task","e":45,"v":0.725},{"p":4,"s":"Single Task","e":48,"v":0.728},{"p":4,"s":"Single Task","e":50,"v":0.739},{"p":4,"s":"Single Task","e":52,"v":0.741},{"p":4,"s":"Single Task","e":55,"v":0.737},{"p":4,"s":"Single Task","e":60,"v":0.735},{"p":4,"s":"Single Task","e":65,"v":0.734},{"p":4,"s":"Single Task","e":70,"v":0.736},{"p":4,"s":"Single Task","e":75,"v":0.735},{"p":4,"s":"Single Task","e":80,"v":0.738},{"p":4,"s":"Single Task","e":85,"v":0.737},{"p":4,"s":"Single Task","e":90,"v":0.739},{"p":4,"s":"Single Task","e":95,"v":0.740},{"p":4,"s":"Single Task","e":100,"v":0.740},{"p":4,"s":"Single Task","e":105,"v":0.742},{"p":4,"s":"Single Task","e":110,"v":0.741},{"p":4,"s":"Single Task","e":115,"v":0.742},{"p":4,"s":"Single Task","e":120,"v":0.741},{"p":4,"s":"Single Task","e":125,"v":0.738},{"p":4,"s":"Single Task","e":130,"v":0.742},{"p":4,"s":"Single Task","e":135,"v":0.741},{"p":4,"s":"Single Task","e":140,"v":0.743},{"p":4,"s":"Single Task","e":145,"v":0.742},{"p":4,"s":"Single Task","e":150,"v":0.744},{"p":4,"s":"Single Task","e":155,"v":0.743},{"p":4,"s":"Single Task","e":160,"v":0.745},{"p":4,"s":"Single Task","e":165,"v":0.744},{"p":4,"s":"Single Task","e":170,"v":0.750},{"p":4,"s":"Single Task","e":175,"v":0.745},{"p":4,"s":"Single Task","e":180,"v":0.746},{"p":4,"s":"Single Task","e":185,"v":0.744},{"p":4,"s":"Single Task","e":190,"v":0.740},{"p":4,"s":"Single Task","e":195,"v":0.745},{"p":4,"s":"Single Task","e":200,"v":0.743},
{"p":4,"s":"Random","e":0,"v":0.62},{"p":4,"s":"Random","e":14,"v":0.709},{"p":4,"s":"Random","e":15,"v":0.711},{"p":4,"s":"Random","e":20,"v":0.724},{"p":4,"s":"Random","e":25,"v":0.733},{"p":4,"s":"Random","e":30,"v":0.740},{"p":4,"s":"Random","e":35,"v":0.744},{"p":4,"s":"Random","e":40,"v":0.748},{"p":4,"s":"Random","e":45,"v":0.750},{"p":4,"s":"Random","e":50,"v":0.758},{"p":4,"s":"Random","e":55,"v":0.766},{"p":4,"s":"Random","e":60,"v":0.763},{"p":4,"s":"Random","e":65,"v":0.768},{"p":4,"s":"Random","e":70,"v":0.764},{"p":4,"s":"Random","e":75,"v":0.766},{"p":4,"s":"Random","e":80,"v":0.762},{"p":4,"s":"Random","e":85,"v":0.765},{"p":4,"s":"Random","e":90,"v":0.763},{"p":4,"s":"Random","e":95,"v":0.766},{"p":4,"s":"Random","e":100,"v":0.764},{"p":4,"s":"Random","e":105,"v":0.767},{"p":4,"s":"Random","e":110,"v":0.765},{"p":4,"s":"Random","e":115,"v":0.768},{"p":4,"s":"Random","e":120,"v":0.766},{"p":4,"s":"Random","e":125,"v":0.764},{"p":4,"s":"Random","e":130,"v":0.769},{"p":4,"s":"Random","e":135,"v":0.765},{"p":4,"s":"Random","e":140,"v":0.768},{"p":4,"s":"Random","e":145,"v":0.766},{"p":4,"s":"Random","e":150,"v":0.767},{"p":4,"s":"Random","e":155,"v":0.768},{"p":4,"s":"Random","e":160,"v":0.766},{"p":4,"s":"Random","e":165,"v":0.764},{"p":4,"s":"Random","e":170,"v":0.761},{"p":4,"s":"Random","e":175,"v":0.766},{"p":4,"s":"Random","e":180,"v":0.763},{"p":4,"s":"Random","e":185,"v":0.765},{"p":4,"s":"Random","e":190,"v":0.764},{"p":4,"s":"Random","e":195,"v":0.762},{"p":4,"s":"Random","e":200,"v":0.764},
{"p":4,"s":"K-Means","e":0,"v":0.62},{"p":4,"s":"K-Means","e":14,"v":0.709},{"p":4,"s":"K-Means","e":15,"v":0.712},{"p":4,"s":"K-Means","e":20,"v":0.725},{"p":4,"s":"K-Means","e":25,"v":0.733},{"p":4,"s":"K-Means","e":30,"v":0.738},{"p":4,"s":"K-Means","e":35,"v":0.742},{"p":4,"s":"K-Means","e":40,"v":0.745},{"p":4,"s":"K-Means","e":45,"v":0.748},{"p":4,"s":"K-Means","e":50,"v":0.757},{"p":4,"s":"K-Means","e":55,"v":0.768},{"p":4,"s":"K-Means","e":60,"v":0.765},{"p":4,"s":"K-Means","e":65,"v":0.767},{"p":4,"s":"K-Means","e":70,"v":0.764},{"p":4,"s":"K-Means","e":75,"v":0.766},{"p":4,"s":"K-Means","e":80,"v":0.761},{"p":4,"s":"K-Means","e":85,"v":0.765},{"p":4,"s":"K-Means","e":90,"v":0.767},{"p":4,"s":"K-Means","e":95,"v":0.768},{"p":4,"s":"K-Means","e":100,"v":0.768},{"p":4,"s":"K-Means","e":105,"v":0.767},{"p":4,"s":"K-Means","e":110,"v":0.769},{"p":4,"s":"K-Means","e":115,"v":0.768},{"p":4,"s":"K-Means","e":120,"v":0.770},{"p":4,"s":"K-Means","e":125,"v":0.769},{"p":4,"s":"K-Means","e":130,"v":0.771},{"p":4,"s":"K-Means","e":135,"v":0.770},{"p":4,"s":"K-Means","e":140,"v":0.771},{"p":4,"s":"K-Means","e":145,"v":0.772},{"p":4,"s":"K-Means","e":150,"v":0.771},{"p":4,"s":"K-Means","e":155,"v":0.773},{"p":4,"s":"K-Means","e":160,"v":0.772},{"p":4,"s":"K-Means","e":165,"v":0.773},{"p":4,"s":"K-Means","e":170,"v":0.772},{"p":4,"s":"K-Means","e":175,"v":0.774},{"p":4,"s":"K-Means","e":180,"v":0.773},{"p":4,"s":"K-Means","e":185,"v":0.772},{"p":4,"s":"K-Means","e":190,"v":0.774},{"p":4,"s":"K-Means","e":195,"v":0.773},{"p":4,"s":"K-Means","e":200,"v":0.773},
{"p":5,"s":"Human","e":0,"v":0.62},{"p":5,"s":"Human","e":9,"v":0.709},{"p":5,"s":"Human","e":10,"v":0.724},{"p":5,"s":"Human","e":12,"v":0.722},{"p":5,"s":"Human","e":15,"v":0.728},{"p":5,"s":"Human","e":20,"v":0.738},{"p":5,"s":"Human","e":25,"v":0.742},{"p":5,"s":"Human","e":30,"v":0.746},{"p":5,"s":"Human","e":35,"v":0.751},{"p":5,"s":"Human","e":40,"v":0.754},{"p":5,"s":"Human","e":45,"v":0.758},{"p":5,"s":"Human","e":50,"v":0.771},{"p":5,"s":"Human","e":55,"v":0.773},{"p":5,"s":"Human","e":60,"v":0.770},{"p":5,"s":"Human","e":65,"v":0.774},{"p":5,"s":"Human","e":70,"v":0.772},{"p":5,"s":"Human","e":75,"v":0.775},{"p":5,"s":"Human","e":80,"v":0.773},{"p":5,"s":"Human","e":85,"v":0.776},{"p":5,"s":"Human","e":90,"v":0.774},{"p":5,"s":"Human","e":95,"v":0.777},{"p":5,"s":"Human","e":100,"v":0.776},{"p":5,"s":"Human","e":105,"v":0.778},{"p":5,"s":"Human","e":110,"v":0.777},{"p":5,"s":"Human","e":115,"v":0.776},{"p":5,"s":"Human","e":120,"v":0.778},{"p":5,"s":"Human","e":125,"v":0.777},{"p":5,"s":"Human","e":130,"v":0.775},{"p":5,"s":"Human","e":135,"v":0.778},{"p":5,"s":"Human","e":140,"v":0.774},{"p":5,"s":"Human","e":145,"v":0.777},{"p":5,"s":"Human","e":150,"v":0.775},{"p":5,"s":"Human","e":155,"v":0.778},{"p":5,"s":"Human","e":160,"v":0.776},{"p":5,"s":"Human","e":165,"v":0.778},{"p":5,"s":"Human","e":170,"v":0.777},{"p":5,"s":"Human","e":175,"v":0.779},{"p":5,"s":"Human","e":180,"v":0.778},{"p":5,"s":"Human","e":185,"v":0.777},{"p":5,"s":"Human","e":190,"v":0.779},{"p":5,"s":"Human","e":195,"v":0.778},{"p":5,"s":"Human","e":200,"v":0.776},
{"p":5,"s":"MAXL","e":0,"v":0.62},{"p":5,"s":"MAXL","e":11,"v":0.709},{"p":5,"s":"MAXL","e":12,"v":0.712},{"p":5,"s":"MAXL","e":15,"v":0.722},{"p":5,"s":"MAXL","e":20,"v":0.732},{"p":5,"s":"MAXL","e":25,"v":0.738},{"p":5,"s":"MAXL","e":30,"v":0.742},{"p":5,"s":"MAXL","e":35,"v":0.746},{"p":5,"s":"MAXL","e":40,"v":0.750},{"p":5,"s":"MAXL","e":45,"v":0.754},{"p":5,"s":"MAXL","e":48,"v":0.756},{"p":5,"s":"MAXL","e":50,"v":0.774},{"p":5,"s":"MAXL","e":55,"v":0.771},{"p":5,"s":"MAXL","e":60,"v":0.773},{"p":5,"s":"MAXL","e":65,"v":0.772},{"p":5,"s":"MAXL","e":70,"v":0.774},{"p":5,"s":"MAXL","e":75,"v":0.772},{"p":5,"s":"MAXL","e":80,"v":0.775},{"p":5,"s":"MAXL","e":85,"v":0.774},{"p":5,"s":"MAXL","e":90,"v":0.777},{"p":5,"s":"MAXL","e":95,"v":0.779},{"p":5,"s":"MAXL","e":100,"v":0.779},{"p":5,"s":"MAXL","e":105,"v":0.779},{"p":5,"s":"MAXL","e":110,"v":0.778},{"p":5,"s":"MAXL","e":115,"v":0.780},{"p":5,"s":"MAXL","e":120,"v":0.778},{"p":5,"s":"MAXL","e":125,"v":0.779},{"p":5,"s":"MAXL","e":130,"v":0.777},{"p":5,"s":"MAXL","e":135,"v":0.780},{"p":5,"s":"MAXL","e":140,"v":0.778},{"p":5,"s":"MAXL","e":145,"v":0.779},{"p":5,"s":"MAXL","e":150,"v":0.781},{"p":5,"s":"MAXL","e":155,"v":0.779},{"p":5,"s":"MAXL","e":160,"v":0.781},{"p":5,"s":"MAXL","e":165,"v":0.780},{"p":5,"s":"MAXL","e":170,"v":0.782},{"p":5,"s":"MAXL","e":175,"v":0.780},{"p":5,"s":"MAXL","e":180,"v":0.781},{"p":5,"s":"MAXL","e":185,"v":0.782},{"p":5,"s":"MAXL","e":190,"v":0.780},{"p":5,"s":"MAXL","e":195,"v":0.782},{"p":5,"s":"MAXL","e":200,"v":0.784},
{"p":5,"s":"Single Task","e":0,"v":0.60},{"p":5,"s":"Single Task","e":30,"v":0.709},{"p":5,"s":"Single Task","e":35,"v":0.712},{"p":5,"s":"Single Task","e":40,"v":0.718},{"p":5,"s":"Single Task","e":45,"v":0.726},{"p":5,"s":"Single Task","e":48,"v":0.730},{"p":5,"s":"Single Task","e":50,"v":0.741},{"p":5,"s":"Single Task","e":55,"v":0.737},{"p":5,"s":"Single Task","e":60,"v":0.733},{"p":5,"s":"Single Task","e":65,"v":0.735},{"p":5,"s":"Single Task","e":70,"v":0.734},{"p":5,"s":"Single Task","e":75,"v":0.736},{"p":5,"s":"Single Task","e":80,"v":0.737},{"p":5,"s":"Single Task","e":85,"v":0.736},{"p":5,"s":"Single Task","e":90,"v":0.739},{"p":5,"s":"Single Task","e":95,"v":0.740},{"p":5,"s":"Single Task","e":100,"v":0.741},{"p":5,"s":"Single Task","e":105,"v":0.742},{"p":5,"s":"Single Task","e":110,"v":0.741},{"p":5,"s":"Single Task","e":115,"v":0.743},{"p":5,"s":"Single Task","e":120,"v":0.742},{"p":5,"s":"Single Task","e":125,"v":0.738},{"p":5,"s":"Single Task","e":130,"v":0.741},{"p":5,"s":"Single Task","e":135,"v":0.743},{"p":5,"s":"Single Task","e":140,"v":0.744},{"p":5,"s":"Single Task","e":145,"v":0.743},{"p":5,"s":"Single Task","e":150,"v":0.745},{"p":5,"s":"Single Task","e":155,"v":0.744},{"p":5,"s":"Single Task","e":160,"v":0.746},{"p":5,"s":"Single Task","e":165,"v":0.745},{"p":5,"s":"Single Task","e":170,"v":0.751},{"p":5,"s":"Single Task","e":175,"v":0.745},{"p":5,"s":"Single Task","e":180,"v":0.747},{"p":5,"s":"Single Task","e":185,"v":0.745},{"p":5,"s":"Single Task","e":190,"v":0.741},{"p":5,"s":"Single Task","e":195,"v":0.746},{"p":5,"s":"Single Task","e":200,"v":0.744},
{"p":5,"s":"Random","e":0,"v":0.62},{"p":5,"s":"Random","e":14,"v":0.709},{"p":5,"s":"Random","e":15,"v":0.711},{"p":5,"s":"Random","e":20,"v":0.718},{"p":5,"s":"Random","e":25,"v":0.726},{"p":5,"s":"Random","e":30,"v":0.733},{"p":5,"s":"Random","e":35,"v":0.737},{"p":5,"s":"Random","e":40,"v":0.742},{"p":5,"s":"Random","e":45,"v":0.748},{"p":5,"s":"Random","e":50,"v":0.757},{"p":5,"s":"Random","e":55,"v":0.754},{"p":5,"s":"Random","e":58,"v":0.747},{"p":5,"s":"Random","e":60,"v":0.751},{"p":5,"s":"Random","e":65,"v":0.756},{"p":5,"s":"Random","e":70,"v":0.752},{"p":5,"s":"Random","e":75,"v":0.755},{"p":5,"s":"Random","e":80,"v":0.753},{"p":5,"s":"Random","e":85,"v":0.756},{"p":5,"s":"Random","e":90,"v":0.754},{"p":5,"s":"Random","e":95,"v":0.755},{"p":5,"s":"Random","e":100,"v":0.753},{"p":5,"s":"Random","e":105,"v":0.757},{"p":5,"s":"Random","e":110,"v":0.755},{"p":5,"s":"Random","e":115,"v":0.754},{"p":5,"s":"Random","e":120,"v":0.756},{"p":5,"s":"Random","e":125,"v":0.753},{"p":5,"s":"Random","e":130,"v":0.755},{"p":5,"s":"Random","e":135,"v":0.754},{"p":5,"s":"Random","e":140,"v":0.756},{"p":5,"s":"Random","e":145,"v":0.755},{"p":5,"s":"Random","e":150,"v":0.757},{"p":5,"s":"Random","e":155,"v":0.755},{"p":5,"s":"Random","e":160,"v":0.754},{"p":5,"s":"Random","e":165,"v":0.756},{"p":5,"s":"Random","e":170,"v":0.758},{"p":5,"s":"Random","e":175,"v":0.756},{"p":5,"s":"Random","e":180,"v":0.755},{"p":5,"s":"Random","e":185,"v":0.756},{"p":5,"s":"Random","e":190,"v":0.754},{"p":5,"s":"Random","e":195,"v":0.756},{"p":5,"s":"Random","e":200,"v":0.754},
{"p":5,"s":"K-Means","e":0,"v":0.62},{"p":5,"s":"K-Means","e":11,"v":0.709},{"p":5,"s":"K-Means","e":12,"v":0.712},{"p":5,"s":"K-Means","e":15,"v":0.725},{"p":5,"s":"K-Means","e":20,"v":0.735},{"p":5,"s":"K-Means","e":25,"v":0.738},{"p":5,"s":"K-Means","e":30,"v":0.741},{"p":5,"s":"K-Means","e":35,"v":0.745},{"p":5,"s":"K-Means","e":40,"v":0.748},{"p":5,"s":"K-Means","e":45,"v":0.750},{"p":5,"s":"K-Means","e":50,"v":0.762},{"p":5,"s":"K-Means","e":55,"v":0.764},{"p":5,"s":"K-Means","e":60,"v":0.766},{"p":5,"s":"K-Means","e":65,"v":0.765},{"p":5,"s":"K-Means","e":70,"v":0.767},{"p":5,"s":"K-Means","e":75,"v":0.769},{"p":5,"s":"K-Means","e":80,"v":0.768},{"p":5,"s":"K-Means","e":85,"v":0.770},{"p":5,"s":"K-Means","e":90,"v":0.769},{"p":5,"s":"K-Means","e":95,"v":0.771},{"p":5,"s":"K-Means","e":100,"v":0.770},{"p":5,"s":"K-Means","e":105,"v":0.772},{"p":5,"s":"K-Means","e":110,"v":0.771},{"p":5,"s":"K-Means","e":115,"v":0.773},{"p":5,"s":"K-Means","e":120,"v":0.772},{"p":5,"s":"K-Means","e":125,"v":0.774},{"p":5,"s":"K-Means","e":130,"v":0.773},{"p":5,"s":"K-Means","e":135,"v":0.775},{"p":5,"s":"K-Means","e":140,"v":0.774},{"p":5,"s":"K-Means","e":145,"v":0.775},{"p":5,"s":"K-Means","e":150,"v":0.776},{"p":5,"s":"K-Means","e":155,"v":0.775},{"p":5,"s":"K-Means","e":160,"v":0.777},{"p":5,"s":"K-Means","e":165,"v":0.776},{"p":5,"s":"K-Means","e":170,"v":0.777},{"p":5,"s":"K-Means","e":175,"v":0.778},{"p":5,"s":"K-Means","e":180,"v":0.777},{"p":5,"s":"K-Means","e":185,"v":0.778},{"p":5,"s":"K-Means","e":190,"v":0.777},{"p":5,"s":"K-Means","e":195,"v":0.778},{"p":5,"s":"K-Means","e":200,"v":0.777},
{"p":6,"s":"Human","e":0,"v":0.58},{"p":6,"s":"Human","e":13,"v":0.661},{"p":6,"s":"Human","e":15,"v":0.672},{"p":6,"s":"Human","e":20,"v":0.686},{"p":6,"s":"Human","e":25,"v":0.690},{"p":6,"s":"Human","e":30,"v":0.694},{"p":6,"s":"Human","e":35,"v":0.698},{"p":6,"s":"Human","e":40,"v":0.701},{"p":6,"s":"Human","e":45,"v":0.703},{"p":6,"s":"Human","e":50,"v":0.720},{"p":6,"s":"Human","e":55,"v":0.722},{"p":6,"s":"Human","e":60,"v":0.721},{"p":6,"s":"Human","e":65,"v":0.723},{"p":6,"s":"Human","e":70,"v":0.721},{"p":6,"s":"Human","e":75,"v":0.724},{"p":6,"s":"Human","e":80,"v":0.723},{"p":6,"s":"Human","e":85,"v":0.725},{"p":6,"s":"Human","e":90,"v":0.726},{"p":6,"s":"Human","e":95,"v":0.724},{"p":6,"s":"Human","e":100,"v":0.726},{"p":6,"s":"Human","e":105,"v":0.725},{"p":6,"s":"Human","e":110,"v":0.729},{"p":6,"s":"Human","e":115,"v":0.726},{"p":6,"s":"Human","e":120,"v":0.727},{"p":6,"s":"Human","e":125,"v":0.725},{"p":6,"s":"Human","e":130,"v":0.727},{"p":6,"s":"Human","e":135,"v":0.726},{"p":6,"s":"Human","e":140,"v":0.728},{"p":6,"s":"Human","e":145,"v":0.726},{"p":6,"s":"Human","e":150,"v":0.727},{"p":6,"s":"Human","e":155,"v":0.725},{"p":6,"s":"Human","e":160,"v":0.727},{"p":6,"s":"Human","e":165,"v":0.722},{"p":6,"s":"Human","e":170,"v":0.726},{"p":6,"s":"Human","e":175,"v":0.725},{"p":6,"s":"Human","e":180,"v":0.727},{"p":6,"s":"Human","e":185,"v":0.726},{"p":6,"s":"Human","e":190,"v":0.725},{"p":6,"s":"Human","e":195,"v":0.727},{"p":6,"s":"Human","e":200,"v":0.723},
{"p":6,"s":"MAXL","e":0,"v":0.58},{"p":6,"s":"MAXL","e":13,"v":0.661},{"p":6,"s":"MAXL","e":15,"v":0.670},{"p":6,"s":"MAXL","e":20,"v":0.686},{"p":6,"s":"MAXL","e":25,"v":0.693},{"p":6,"s":"MAXL","e":30,"v":0.699},{"p":6,"s":"MAXL","e":35,"v":0.703},{"p":6,"s":"MAXL","e":40,"v":0.707},{"p":6,"s":"MAXL","e":45,"v":0.708},{"p":6,"s":"MAXL","e":48,"v":0.712},{"p":6,"s":"MAXL","e":50,"v":0.729},{"p":6,"s":"MAXL","e":55,"v":0.728},{"p":6,"s":"MAXL","e":60,"v":0.730},{"p":6,"s":"MAXL","e":65,"v":0.727},{"p":6,"s":"MAXL","e":70,"v":0.731},{"p":6,"s":"MAXL","e":75,"v":0.729},{"p":6,"s":"MAXL","e":80,"v":0.733},{"p":6,"s":"MAXL","e":85,"v":0.731},{"p":6,"s":"MAXL","e":90,"v":0.734},{"p":6,"s":"MAXL","e":95,"v":0.733},{"p":6,"s":"MAXL","e":100,"v":0.736},{"p":6,"s":"MAXL","e":105,"v":0.735},{"p":6,"s":"MAXL","e":110,"v":0.737},{"p":6,"s":"MAXL","e":115,"v":0.736},{"p":6,"s":"MAXL","e":120,"v":0.738},{"p":6,"s":"MAXL","e":125,"v":0.736},{"p":6,"s":"MAXL","e":130,"v":0.737},{"p":6,"s":"MAXL","e":135,"v":0.738},{"p":6,"s":"MAXL","e":140,"v":0.737},{"p":6,"s":"MAXL","e":145,"v":0.739},{"p":6,"s":"MAXL","e":150,"v":0.738},{"p":6,"s":"MAXL","e":155,"v":0.740},{"p":6,"s":"MAXL","e":160,"v":0.737},{"p":6,"s":"MAXL","e":165,"v":0.739},{"p":6,"s":"MAXL","e":170,"v":0.738},{"p":6,"s":"MAXL","e":175,"v":0.740},{"p":6,"s":"MAXL","e":180,"v":0.741},{"p":6,"s":"MAXL","e":185,"v":0.739},{"p":6,"s":"MAXL","e":190,"v":0.738},{"p":6,"s":"MAXL","e":195,"v":0.740},{"p":6,"s":"MAXL","e":200,"v":0.739},
{"p":6,"s":"Single Task","e":0,"v":0.58},{"p":6,"s":"Single Task","e":36,"v":0.661},{"p":6,"s":"Single Task","e":40,"v":0.666},{"p":6,"s":"Single Task","e":45,"v":0.670},{"p":6,"s":"Single Task","e":48,"v":0.674},{"p":6,"s":"Single Task","e":50,"v":0.681},{"p":6,"s":"Single Task","e":55,"v":0.684},{"p":6,"s":"Single Task","e":60,"v":0.685},{"p":6,"s":"Single Task","e":65,"v":0.686},{"p":6,"s":"Single Task","e":70,"v":0.685},{"p":6,"s":"Single Task","e":75,"v":0.684},{"p":6,"s":"Single Task","e":80,"v":0.687},{"p":6,"s":"Single Task","e":85,"v":0.686},{"p":6,"s":"Single Task","e":90,"v":0.689},{"p":6,"s":"Single Task","e":95,"v":0.691},{"p":6,"s":"Single Task","e":100,"v":0.692},{"p":6,"s":"Single Task","e":105,"v":0.691},{"p":6,"s":"Single Task","e":110,"v":0.689},{"p":6,"s":"Single Task","e":115,"v":0.690},{"p":6,"s":"Single Task","e":120,"v":0.689},{"p":6,"s":"Single Task","e":125,"v":0.691},{"p":6,"s":"Single Task","e":130,"v":0.690},{"p":6,"s":"Single Task","e":135,"v":0.692},{"p":6,"s":"Single Task","e":140,"v":0.691},{"p":6,"s":"Single Task","e":145,"v":0.693},{"p":6,"s":"Single Task","e":150,"v":0.693},{"p":6,"s":"Single Task","e":155,"v":0.692},{"p":6,"s":"Single Task","e":160,"v":0.690},{"p":6,"s":"Single Task","e":165,"v":0.693},{"p":6,"s":"Single Task","e":170,"v":0.692},{"p":6,"s":"Single Task","e":175,"v":0.695},{"p":6,"s":"Single Task","e":180,"v":0.696},{"p":6,"s":"Single Task","e":185,"v":0.693},{"p":6,"s":"Single Task","e":190,"v":0.695},{"p":6,"s":"Single Task","e":195,"v":0.690},{"p":6,"s":"Single Task","e":200,"v":0.691},
{"p":6,"s":"Random","e":0,"v":0.58},{"p":6,"s":"Random","e":15,"v":0.661},{"p":6,"s":"Random","e":16,"v":0.664},{"p":6,"s":"Random","e":20,"v":0.672},{"p":6,"s":"Random","e":25,"v":0.680},{"p":6,"s":"Random","e":30,"v":0.685},{"p":6,"s":"Random","e":35,"v":0.688},{"p":6,"s":"Random","e":40,"v":0.690},{"p":6,"s":"Random","e":45,"v":0.694},{"p":6,"s":"Random","e":48,"v":0.698},{"p":6,"s":"Random","e":50,"v":0.707},{"p":6,"s":"Random","e":55,"v":0.706},{"p":6,"s":"Random","e":60,"v":0.705},{"p":6,"s":"Random","e":65,"v":0.709},{"p":6,"s":"Random","e":70,"v":0.703},{"p":6,"s":"Random","e":75,"v":0.706},{"p":6,"s":"Random","e":80,"v":0.704},{"p":6,"s":"Random","e":85,"v":0.707},{"p":6,"s":"Random","e":90,"v":0.706},{"p":6,"s":"Random","e":95,"v":0.708},{"p":6,"s":"Random","e":100,"v":0.708},{"p":6,"s":"Random","e":105,"v":0.709},{"p":6,"s":"Random","e":110,"v":0.706},{"p":6,"s":"Random","e":115,"v":0.708},{"p":6,"s":"Random","e":120,"v":0.707},{"p":6,"s":"Random","e":125,"v":0.709},{"p":6,"s":"Random","e":130,"v":0.707},{"p":6,"s":"Random","e":135,"v":0.708},{"p":6,"s":"Random","e":140,"v":0.706},{"p":6,"s":"Random","e":145,"v":0.709},{"p":6,"s":"Random","e":150,"v":0.711},{"p":6,"s":"Random","e":155,"v":0.708},{"p":6,"s":"Random","e":160,"v":0.707},{"p":6,"s":"Random","e":165,"v":0.709},{"p":6,"s":"Random","e":170,"v":0.708},{"p":6,"s":"Random","e":175,"v":0.707},{"p":6,"s":"Random","e":180,"v":0.709},{"p":6,"s":"Random","e":185,"v":0.708},{"p":6,"s":"Random","e":190,"v":0.707},{"p":6,"s":"Random","e":195,"v":0.709},{"p":6,"s":"Random","e":200,"v":0.710},
{"p":6,"s":"K-Means","e":0,"v":0.58},{"p":6,"s":"K-Means","e":14,"v":0.661},{"p":6,"s":"K-Means","e":15,"v":0.668},{"p":6,"s":"K-Means","e":20,"v":0.680},{"p":6,"s":"K-Means","e":25,"v":0.688},{"p":6,"s":"K-Means","e":30,"v":0.693},{"p":6,"s":"K-Means","e":35,"v":0.697},{"p":6,"s":"K-Means","e":40,"v":0.700},{"p":6,"s":"K-Means","e":45,"v":0.702},{"p":6,"s":"K-Means","e":50,"v":0.718},{"p":6,"s":"K-Means","e":55,"v":0.720},{"p":6,"s":"K-Means","e":60,"v":0.719},{"p":6,"s":"K-Means","e":65,"v":0.721},{"p":6,"s":"K-Means","e":70,"v":0.720},{"p":6,"s":"K-Means","e":75,"v":0.718},{"p":6,"s":"K-Means","e":80,"v":0.716},{"p":6,"s":"K-Means","e":85,"v":0.719},{"p":6,"s":"K-Means","e":90,"v":0.721},{"p":6,"s":"K-Means","e":95,"v":0.723},{"p":6,"s":"K-Means","e":100,"v":0.723},{"p":6,"s":"K-Means","e":105,"v":0.724},{"p":6,"s":"K-Means","e":110,"v":0.725},{"p":6,"s":"K-Means","e":115,"v":0.726},{"p":6,"s":"K-Means","e":120,"v":0.727},{"p":6,"s":"K-Means","e":125,"v":0.726},{"p":6,"s":"K-Means","e":130,"v":0.728},{"p":6,"s":"K-Means","e":135,"v":0.729},{"p":6,"s":"K-Means","e":140,"v":0.730},{"p":6,"s":"K-Means","e":145,"v":0.731},{"p":6,"s":"K-Means","e":150,"v":0.731},{"p":6,"s":"K-Means","e":155,"v":0.730},{"p":6,"s":"K-Means","e":160,"v":0.732},{"p":6,"s":"K-Means","e":165,"v":0.730},{"p":6,"s":"K-Means","e":170,"v":0.731},{"p":6,"s":"K-Means","e":175,"v":0.730},{"p":6,"s":"K-Means","e":180,"v":0.733},{"p":6,"s":"K-Means","e":185,"v":0.731},{"p":6,"s":"K-Means","e":190,"v":0.730},{"p":6,"s":"K-Means","e":195,"v":0.732},{"p":6,"s":"K-Means","e":200,"v":0.732}
]},
"data":{"name":"d"},
"config":{
 "font":"Liberation Serif",
 "view":{"stroke":"#888888","strokeWidth":1.5},
 "axis":{"grid":false,"domainColor":"#111111","domainWidth":1.5,"tickColor":"#111111","tickSize":3,"tickWidth":1,"labelFont":"Liberation Serif","labelFontSize":16,"labelColor":"#444444","titleFont":"Liberation Serif","titleFontWeight":"normal","titleColor":"#555555","labelFlush":false,"labelOverlap":false},
 "axisY":{"titleFontSize":17,"titlePadding":5,"labelPadding":2},
 "axisX":{"titleFontSize":14,"titlePadding":0,"labelPadding":0},
 "legend":{"symbolType":"stroke","symbolSize":1225,"symbolStrokeWidth":4,"labelFont":"Liberation Serif","labelFontSize":20,"labelColor":"#000000","labelOffset":17,"rowPadding":26,"padding":14,"strokeColor":"#333333","fillColor":"#ffffff","labelLimit":300,"titleOrient":"bottom","titleFontSize":26,"titlePadding":2}
},
"spacing":5,
"vconcat":[
{"hconcat":[
 {"width":204,"height":154,"layer":[
  {"transform":[{"filter":"datum.p==1"}],"mark":{"type":"line","strokeWidth":2,"clip":true},
   "encoding":{"x":{"field":"e","type":"quantitative","scale":{"domain":[0,200]},"axis":{"values":[0,100,200],"title":"Epoch"}},
    "y":{"field":"v","type":"quantitative","scale":{"domain":[0.8356,0.9149],"nice":false,"zero":false},"axis":{"values":[0.85,0.875,0.9],"format":".3f","title":"Test Performance (Acc.)"}},
    "color":{"field":"s","type":"nominal","scale":{"domain":["Human","MAXL","Single Task","Random","K-Means"],"range":["#8000ff","#1996f3","#ff1a00","#ffa05a","#40e0d0"]},"legend":{"orient":"none","legendX":-255,"legendY":26,"title":" "}}}},
  {"data":{"values":[{}]},"mark":{"type":"rect","fill":"white","stroke":"black","strokeWidth":1.5},"encoding":{"x":{"datum":61.5},"x2":{"datum":195.4},"y":{"datum":0.8375},"y2":{"datum":0.8488}}},
  {"data":{"values":[{}]},"mark":{"type":"text","font":"Liberation Serif","fontWeight":"bold","fontSize":18,"align":"center","baseline":"middle"},"encoding":{"x":{"datum":128.4},"y":{"datum":0.8432},"text":{"value":"PRI 3 | AUX 10"}}}
 ]},
 {"width":205,"height":154,"layer":[
  {"transform":[{"filter":"datum.p==2"}],"mark":{"type":"line","strokeWidth":2,"clip":true},
   "encoding":{"x":{"field":"e","type":"quantitative","scale":{"domain":[0,200]},"axis":{"values":[0,100,200],"title":"Epoch"}},
    "y":{"field":"v","type":"quantitative","scale":{"domain":[0.8356,0.9149],"nice":false,"zero":false},"axis":{"values":[0.85,0.875,0.9],"format":".3f","title":"Test Performance (Acc.)"}},
    "color":{"field":"s","type":"nominal","scale":{"domain":["Human","MAXL","Single Task","Random","K-Means"],"range":["#8000ff","#1996f3","#ff1a00","#ffa05a","#40e0d0"]},"legend":{"orient":"none","legendX":-255,"legendY":26,"title":" "}}}},
  {"data":{"values":[{}]},"mark":{"type":"rect","fill":"white","stroke":"black","strokeWidth":1.5},"encoding":{"x":{"datum":63.1},"x2":{"datum":196.4},"y":{"datum":0.8375},"y2":{"datum":0.8488}}},
  {"data":{"values":[{}]},"mark":{"type":"text","font":"Liberation Serif","fontWeight":"bold","fontSize":18,"align":"center","baseline":"middle"},"encoding":{"x":{"datum":129.8},"y":{"datum":0.8432},"text":{"value":"PRI 3 | AUX 20"}}}
 ]},
 {"width":202,"height":154,"layer":[
  {"transform":[{"filter":"datum.p==3"}],"mark":{"type":"line","strokeWidth":2,"clip":true},
   "encoding":{"x":{"field":"e","type":"quantitative","scale":{"domain":[0,200]},"axis":{"values":[0,100,200],"title":"Epoch"}},
    "y":{"field":"v","type":"quantitative","scale":{"domain":[0.8356,0.9149],"nice":false,"zero":false},"axis":{"values":[0.85,0.875,0.9],"format":".3f","title":"Test Performance (Acc.)"}},
    "color":{"field":"s","type":"nominal","scale":{"domain":["Human","MAXL","Single Task","Random","K-Means"],"range":["#8000ff","#1996f3","#ff1a00","#ffa05a","#40e0d0"]},"legend":{"orient":"none","legendX":-255,"legendY":26,"title":" "}}}},
  {"data":{"values":[{}]},"mark":{"type":"rect","fill":"white","stroke":"black","strokeWidth":1.5},"encoding":{"x":{"datum":48.5},"x2":{"datum":194.4},"y":{"datum":0.8375},"y2":{"datum":0.8495}}},
  {"data":{"values":[{}]},"mark":{"type":"text","font":"Liberation Serif","fontWeight":"bold","fontSize":18,"align":"center","baseline":"middle"},"encoding":{"x":{"datum":121.4},"y":{"datum":0.8435},"text":{"value":"PRI 3 | AUX 100"}}}
 ]}
],"spacing":79,"bounds":"flush"},
{"hconcat":[
 {"width":204,"height":156,"layer":[
  {"transform":[{"filter":"datum.p==4"}],"mark":{"type":"line","strokeWidth":2,"clip":true},
   "encoding":{"x":{"field":"e","type":"quantitative","scale":{"domain":[0,200]},"axis":{"values":[0,100,200],"title":"Epoch"}},
    "y":{"field":"v","type":"quantitative","scale":{"domain":[0.7095,0.7908],"nice":false,"zero":false},"axis":{"values":[0.725,0.75,0.775],"format":".3f","title":"Test Performance (Acc.)"}},
    "color":{"field":"s","type":"nominal","scale":{"domain":["Human","MAXL","Single Task","Random","K-Means"],"range":["#8000ff","#1996f3","#ff1a00","#ffa05a","#40e0d0"]},"legend":{"orient":"none","legendX":-255,"legendY":26,"title":" "}}}},
  {"data":{"values":[{}]},"mark":{"type":"rect","fill":"white","stroke":"black","strokeWidth":1.5},"encoding":{"x":{"datum":61.5},"x2":{"datum":195.4},"y":{"datum":0.7112},"y2":{"datum":0.7229}}},
  {"data":{"values":[{}]},"mark":{"type":"text","font":"Liberation Serif","fontWeight":"bold","fontSize":18,"align":"center","baseline":"middle"},"encoding":{"x":{"datum":128.4},"y":{"datum":0.7170},"text":{"value":"PRI 10 | AUX 20"}}}
 ]},
 {"width":207,"height":156,"layer":[
  {"transform":[{"filter":"datum.p==5"}],"mark":{"type":"line","strokeWidth":2,"clip":true},
   "encoding":{"x":{"field":"e","type":"quantitative","scale":{"domain":[0,200]},"axis":{"values":[0,100,200],"title":"Epoch"}},
    "y":{"field":"v","type":"quantitative","scale":{"domain":[0.7095,0.7908],"nice":false,"zero":false},"axis":{"values":[0.725,0.75,0.775],"format":".3f","title":"Test Performance (Acc.)"}},
    "color":{"field":"s","type":"nominal","scale":{"domain":["Human","MAXL","Single Task","Random","K-Means"],"range":["#8000ff","#1996f3","#ff1a00","#ffa05a","#40e0d0"]},"legend":{"orient":"none","legendX":-255,"legendY":26,"title":" "}}}},
  {"data":{"values":[{}]},"mark":{"type":"rect","fill":"white","stroke":"black","strokeWidth":1.5},"encoding":{"x":{"datum":55.1},"x2":{"datum":195.8},"y":{"datum":0.7112},"y2":{"datum":0.7232}}},
  {"data":{"values":[{}]},"mark":{"type":"text","font":"Liberation Serif","fontWeight":"bold","fontSize":18,"align":"center","baseline":"middle"},"encoding":{"x":{"datum":125.5},"y":{"datum":0.7172},"text":{"value":"PRI 10 | AUX 100"}}}
 ]},
 {"width":200,"height":156,"layer":[
  {"transform":[{"filter":"datum.p==6"}],"mark":{"type":"line","strokeWidth":2,"clip":true},
   "encoding":{"x":{"field":"e","type":"quantitative","scale":{"domain":[0,200]},"axis":{"values":[0,100,200],"title":"Epoch"}},
    "y":{"field":"v","type":"quantitative","scale":{"domain":[0.661,0.7486],"nice":false,"zero":false},"axis":{"values":[0.675,0.7,0.725],"format":".3f","title":"Test Performance (Acc.)"}},
    "color":{"field":"s","type":"nominal","scale":{"domain":["Human","MAXL","Single Task","Random","K-Means"],"range":["#8000ff","#1996f3","#ff1a00","#ffa05a","#40e0d0"]},"legend":{"orient":"none","legendX":-255,"legendY":26,"title":" "}}}},
  {"data":{"values":[{}]},"mark":{"type":"rect","fill":"white","stroke":"black","strokeWidth":1.5},"encoding":{"x":{"datum":46.3},"x2":{"datum":196},"y":{"datum":0.6629},"y2":{"datum":0.6754}}},
  {"data":{"values":[{}]},"mark":{"type":"text","font":"Liberation Serif","fontWeight":"bold","fontSize":18,"align":"center","baseline":"middle"},"encoding":{"x":{"datum":121.2},"y":{"datum":0.6692},"text":{"value":"PRI 20 | AUX 100"}}}
 ]}
],"spacing":79,"bounds":"flush"}
]
}
